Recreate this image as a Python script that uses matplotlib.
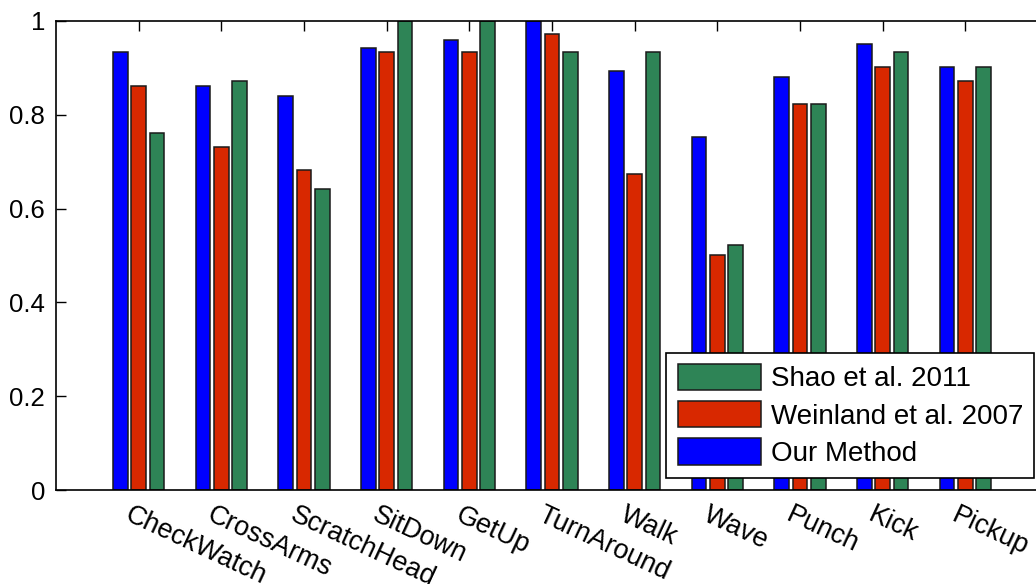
import numpy as np
import matplotlib
matplotlib.use("Agg")
import matplotlib.pyplot as plt
import matplotlib.transforms as mtransforms

plt.rcParams["font.family"] = ["Liberation Sans", "DejaVu Sans"]

actions = ["CheckWatch", "CrossArms", "ScratchHead", "SitDown", "GetUp",
           "TurnAround", "Walk", "Wave", "Punch", "Kick", "Pickup"]
our_method = [0.933, 0.862, 0.841, 0.942, 0.959, 1.0, 0.893, 0.753, 0.881, 0.951, 0.902]
weinland_2007 = [0.862, 0.731, 0.682, 0.933, 0.933, 0.973, 0.674, 0.501, 0.822, 0.902, 0.872]
shao_2011 = [0.761, 0.872, 0.642, 1.0, 1.0, 0.933, 0.933, 0.523, 0.822, 0.933, 0.902]

series = [
    ("Our Method", our_method, "#0000ff"),
    ("Weinland et al. 2007", weinland_2007, "#d82800"),
    ("Shao et al. 2011", shao_2011, "#2e8456"),
]

fig = plt.figure(figsize=(10.36, 5.84), dpi=100)
ax = fig.add_axes([56 / 1036, 94 / 584, 992 / 1036, 469 / 584])

x = np.arange(1, len(actions) + 1)
step = 0.222
width = 0.178
handles = []
for i, (name, vals, color) in enumerate(series):
    b = ax.bar(x + (i - 1) * step, vals, width, color=color,
               edgecolor="#1a1a1a", linewidth=1.1, label=name)
    handles.append(b)

ax.set_xlim(0, 12)
ax.set_ylim(0, 1)
ax.set_xticks(x)
ax.set_xticklabels([])
# rotated category labels, placed just under each group
trans = mtransforms.blended_transform_factory(ax.transData, ax.transAxes)
trans = trans + mtransforms.ScaledTranslation(-7 / 100, -12 / 100, fig.dpi_scale_trans)
for xi, name in zip(x, actions):
    ax.text(xi, 0, name, transform=trans, rotation=-25, ha="left", va="top",
            rotation_mode="anchor", fontsize=19.5, clip_on=False)

yt = [0, 0.2, 0.4, 0.6, 0.8, 1.0]
ax.set_yticks(yt)
ax.set_yticklabels(["0", "0.2", "0.4", "0.6", "0.8", "1"], fontsize=18.5)
ax.tick_params(axis="x", direction="in", top=True, bottom=False, length=7, width=1)
ax.tick_params(axis="y", direction="in", left=True, right=True, length=7, width=1, pad=8)
for s in ax.spines.values():
    s.set_linewidth(1.2)

leg = ax.legend(handles[::-1], [s[0] for s in series][::-1],
                loc="lower right", bbox_to_anchor=(0.986, 0.026),
                borderaxespad=0, fancybox=False, edgecolor="black",
                fontsize=20, handlelength=3.0, handleheight=1.1,
                handletextpad=0.35, labelspacing=0.3, borderpad=0.4)
leg.get_frame().set_linewidth(1.2)
leg.get_frame().set_alpha(1)

fig.savefig("out.png", dpi=100)
